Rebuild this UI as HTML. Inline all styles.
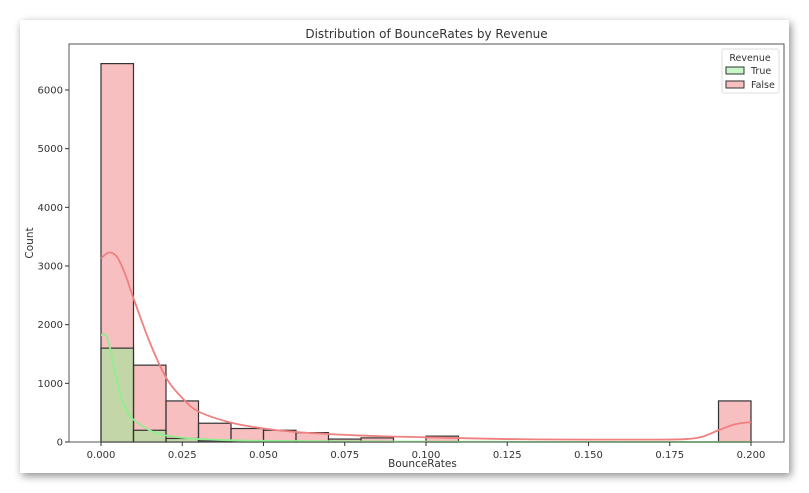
<!DOCTYPE html>
<html><head><meta charset="utf-8"><style>
body{margin:0;background:#fff;width:809px;height:493px;overflow:hidden;font-family:"DejaVu Sans","Liberation Sans",sans-serif}
#card{position:absolute;left:20px;top:20px;width:769px;height:453px;background:#fff;box-shadow:2px 3px 8px rgba(0,0,0,0.45)}
svg{position:absolute;left:0;top:0}
text{font-family:"DejaVu Sans","Liberation Sans",sans-serif;fill:#333}
</style></head><body>
<div id="card"></div>
<svg id="chart" width="809" height="493"></svg>
<script>
const binStarts=[0,0.01,0.02,0.03,0.04,0.05,0.06,0.07,0.08,0.09,0.10,0.11,0.12,0.13,0.14,0.15,0.16,0.17,0.18,0.19];
const falseCounts=[6450,1310,700,320,230,200,160,50,70,0,100,0,0,0,0,0,0,0,0,700];
const trueCounts=[1600,200,60,20,10,5,3,2,2,0,2,0,0,0,0,0,0,0,0,0];
const kdeFalseX=[0,0.0025,0.005,0.0075,0.01,0.015,0.02,0.025,0.03,0.04,0.05,0.06,0.08,0.1,0.125,0.15,0.17,0.18,0.185,0.19,0.195,0.2];
const kdeFalseY=[3130,3230,3150,2850,2450,1700,1100,750,520,330,230,170,110,80,50,40,40,50,90,200,300,340];
const kdeTrueX=[0,0.0015,0.003,0.0045,0.006,0.008,0.01,0.015,0.02,0.03,0.05,0.1,0.15,0.2];
const kdeTrueY=[1820,1820,1550,1150,800,520,380,200,110,50,20,5,2,0];
const xTicks=[0,0.025,0.05,0.075,0.1,0.125,0.15,0.175,0.2];
const xTickLabels=["0.000","0.025","0.050","0.075","0.100","0.125","0.150","0.175","0.200"];
const yTicks=[0,1000,2000,3000,4000,5000,6000];
const binWidth=0.01;

const svg=document.getElementById('chart');
const NS='http://www.w3.org/2000/svg';
const L=69,T=44,R=784,B=442;
const x=v=>101+v*3250;
const y=v=>B-v*(352/6000);
function mk(tag,attrs,parent){const e=document.createElementNS(NS,tag);for(const k in attrs)e.setAttribute(k,attrs[k]);(parent||svg).appendChild(e);return e;}

const t=mk('text',{x:(L+R)/2,y:38,'text-anchor':'middle','font-size':'12'});
t.textContent='Distribution of BounceRates by Revenue';



binStarts.forEach((b,i)=>{
  if(falseCounts[i]<=0)return;
  const r=mk('rect',{x:x(b),y:y(falseCounts[i]),width:x(b+binWidth)-x(b),height:B-y(falseCounts[i]),fill:'rgba(240,128,128,0.5)',stroke:'#333','stroke-width':'1.2'});
  
  
});
binStarts.forEach((b,i)=>{
  if(trueCounts[i]<=0)return;
  const r=mk('rect',{x:x(b),y:y(trueCounts[i]),width:x(b+binWidth)-x(b),height:B-y(trueCounts[i]),fill:'rgba(144,238,144,0.5)',stroke:'#333','stroke-width':'1.2'});
  
  
});

function smooth(xs,ys){
  const p=xs.map((v,i)=>[x(v),y(ys[i])]);
  let d='M'+p[0][0]+','+p[0][1];
  for(let i=0;i<p.length-1;i++){
    const p0=p[Math.max(0,i-1)],p1=p[i],p2=p[i+1],p3=p[Math.min(p.length-1,i+2)];
    const c1=[p1[0]+(p2[0]-p0[0])/6,p1[1]+(p2[1]-p0[1])/6];
    const c2=[p2[0]-(p3[0]-p1[0])/6,p2[1]-(p3[1]-p1[1])/6];
    d+=' C'+c1+' '+c2+' '+p2;
  }
  return d;
}
const kf=mk('path',{d:smooth(kdeFalseX,kdeFalseY),fill:'none',stroke:'#f08080','stroke-width':'1.8'});


const kt=mk('path',{d:smooth(kdeTrueX,kdeTrueY),fill:'none',stroke:'#90ee90','stroke-width':'1.8'});



const frame=mk('rect',{x:L,y:T,width:R-L,height:B-T,fill:'none',stroke:'#555','stroke-width':'1'});



xTicks.forEach((v,i)=>{
  mk('line',{x1:x(v),x2:x(v),y1:B,y2:B+4,stroke:'#333'});
  const tx=mk('text',{x:x(v),y:B+16,'text-anchor':'middle','font-size':'10'});
  tx.textContent=xTickLabels[i];
  
  
});
yTicks.forEach(v=>{
  mk('line',{x1:L-4,x2:L,y1:y(v),y2:y(v),stroke:'#333'});
  const tx=mk('text',{x:L-6,y:y(v)+3.5,'text-anchor':'end','font-size':'10'});
  tx.textContent=String(v);
  
  
});
const xl=mk('text',{x:(L+R)/2-4,y:467,'text-anchor':'middle','font-size':'10.5'});
xl.textContent='BounceRates';


const yl=mk('text',{x:0,y:0,'text-anchor':'middle','font-size':'10.5',transform:'translate(33,243) rotate(-90)'});
yl.textContent='Count';



const lg=mk('g',{});


mk('rect',{x:722,y:49,width:57,height:44,fill:'#fff',stroke:'#ddd',rx:2},lg);
const lt=mk('text',{x:750,y:61,'text-anchor':'middle','font-size':'9.5'},lg);lt.textContent='Revenue';
mk('rect',{x:726,y:67,width:18,height:7,fill:'rgba(144,238,144,0.5)',stroke:'#333'},lg);
const l1=mk('text',{x:751,y:74,'font-size':'9.5'},lg);l1.textContent='True';
mk('rect',{x:726,y:81,width:18,height:7,fill:'rgba(240,128,128,0.5)',stroke:'#333'},lg);
const l2=mk('text',{x:751,y:88,'font-size':'9.5'},lg);l2.textContent='False';
</script>
</body></html>
